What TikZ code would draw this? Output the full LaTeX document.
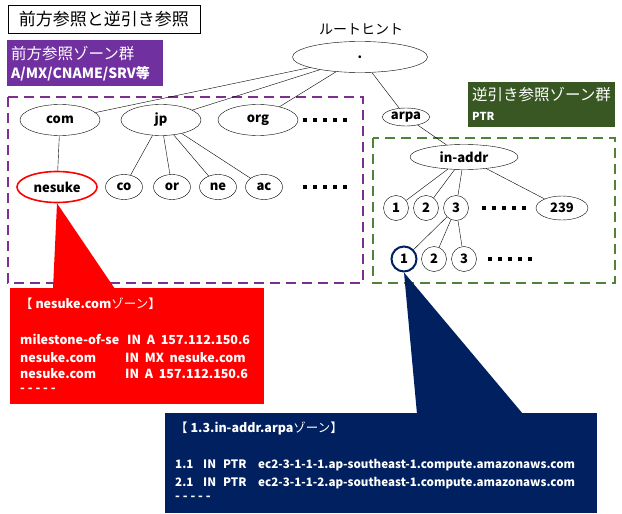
\documentclass[tikz,border=0pt]{standalone}
\usepackage{fontspec}
\setmainfont{Noto Sans CJK JP}
\usetikzlibrary{shapes.geometric}
\definecolor{fwdfill}{HTML}{7030A0}
\definecolor{fwdline}{HTML}{7E2F8E}
\definecolor{revfill}{HTML}{385723}
\definecolor{revline}{HTML}{538135}
\definecolor{navy}{HTML}{002060}
\begin{document}
\begin{tikzpicture}[x=1pt,y=-1pt,
	dom/.style={ellipse,draw,inner sep=0pt,minimum width=80pt,minimum height=31pt,font=\fontsize{13}{13}\selectfont\bfseries},
	leaf/.style={ellipse,draw,inner sep=0pt,minimum width=37pt,minimum height=25pt,font=\fontsize{13}{13}\selectfont\bfseries},
	num/.style={circle,draw,inner sep=0pt,minimum size=25pt,font=\fontsize{13}{13}\selectfont\bfseries},
	more/.style={line width=4pt,dash pattern=on 4pt off 6pt},
	zone/.style={line width=1.6pt,dash pattern=on 10pt off 6pt},
	rec/.style={anchor=base west,inner sep=0pt,text=white,font=\fontsize{12.5}{12.5}\selectfont\bfseries}]
	\useasboundingbox (0,0) rectangle (622,514);
	% tieu de
	\node[draw,inner sep=0pt,minimum width=192pt,minimum height=28pt,font=\fontsize{17}{17}\selectfont] (title) at (104,19) {前方参照と逆引き参照};
	% cac vung
	\fill[fwdfill] (7,40) rectangle (163,86);
	\node[anchor=base west,inner sep=0pt,text=white,font=\fontsize{15.5}{15.5}\selectfont] (fwd1) at (11,59) {前方参照ゾーン群};
	\node[anchor=base west,inner sep=0pt,text=white,font=\fontsize{14}{14}\selectfont\bfseries] (fwd2) at (11,78) {A/MX/CNAME/SRV等};
	\fill[revfill] (468,82) rectangle (615,127);
	\node[anchor=base west,inner sep=0pt,text=white,font=\fontsize{15.5}{15.5}\selectfont] (rev1) at (472,100) {逆引き参照ゾーン群};
	\node[anchor=base west,inner sep=0pt,text=white,font=\fontsize{11}{11}\selectfont\bfseries] (rev2) at (472,120) {PTR};
	\draw[fwdline,zone] (8,97) rectangle (363,283);
	\draw[revline,zone] (373,138) rectangle (615,283);
	% cay
	\node[font=\fontsize{14}{14}\selectfont] (hint) at (361,29) {ルートヒント};
	\node[dom,minimum width=135pt] (root) at (360,57) {.};
	\node[dom] (com) at (60,120) {com};
	\node[dom] (jp) at (161,120) {jp};
	\node[dom] (org) at (258,120) {org};
	\node[dom,minimum width=47pt,minimum height=18pt] (arpa) at (406,117) {arpa};
	\node[dom,red,line width=1.6pt,text=black] (nesuke) at (57,187) {nesuke};
	\node[leaf] (co) at (124,187) {co};
	\node[leaf] (or) at (172,187) {or};
	\node[leaf] (ne) at (218,187) {ne};
	\node[leaf] (ac) at (264,187) {ac};
	\node[dom,minimum width=108pt,minimum height=25pt] (inaddr) at (464,157) {in-addr};
	\node[num] (a1) at (396,208) {1};
	\node[num] (a2) at (426,208) {2};
	\node[num] (a3) at (456,208) {3};
	\node[dom,minimum width=52pt,minimum height=24pt] (a239) at (562,208) {239};
	\node[num,navy,line width=2pt,text=black] (b1) at (404,259) {1};
	\node[num] (b2) at (434,259) {2};
	\node[num] (b3) at (464,259) {3};
	\foreach \t in {com,jp,org,arpa} \draw (root) -- (\t);
	\foreach \t in {co,or,ne,ac} \draw (jp) -- (\t);
	\draw (com) -- (nesuke);
	\draw (arpa) -- (inaddr);
	\foreach \t in {a1,a2,a3,a239} \draw (inaddr) -- (\t);
	\foreach \t in {b1,b2,b3} \draw (a3) -- (\t);
	\draw[more] (303,120) -- (348,120);
	\draw[more] (303,187) -- (348,187);
	\draw[more] (482,208) -- (526,208);
	\draw[more] (488,259) -- (532,259);
	% vung nesuke.com
	\coordinate (rl) at (53,289);
	\coordinate (rr) at (115,289);
	\fill[red] (nesuke.south) -- (rl) -- (rr) -- cycle;
	\fill[red] (10,288) rectangle (264,404);
	\node[rec] (rhead) at (20,308) {\mdseries【 \textbf{nesuke.com}ゾーン】};
	\node[rec] (r1) at (20,344) {\makebox[107pt][l]{milestone-of-se}IN~~A~~157.112.150.6};
	\node[rec] (r2) at (20,362) {\makebox[105pt][l]{nesuke.com}IN~~MX~~nesuke.com};
	\node[rec] (r3) at (20,378) {\makebox[105pt][l]{nesuke.com}IN~~A~~157.112.150.6};
	\node[rec] (r4) at (20,392) {- - - - -};
	% vung 1.3.in-addr.arpa
	\coordinate (nl) at (417,414);
	\coordinate (nr) at (523,414);
	\fill[navy] (b1.south) -- (nl) -- (nr) -- cycle;
	\fill[navy] (165,413) rectangle (597,513);
	\node[rec] (nhead) at (175,432) {\mdseries【 \textbf{1.3.in-addr.arpa}ゾーン】};
	\node[rec,font=\fontsize{11.6}{11.6}\selectfont\bfseries] (n1) at (175,468) {\makebox[28pt][l]{1.1}\makebox[20pt][l]{IN}\makebox[35pt][l]{PTR}ec2-3-1-1-1.ap-southeast-1.compute.amazonaws.com};
	\node[rec,font=\fontsize{11.6}{11.6}\selectfont\bfseries] (n2) at (175,486) {\makebox[28pt][l]{2.1}\makebox[20pt][l]{IN}\makebox[35pt][l]{PTR}ec2-3-1-1-2.ap-southeast-1.compute.amazonaws.com};
	\node[rec] (n3) at (175,500) {- - - - -};
\end{tikzpicture}
\end{document}
